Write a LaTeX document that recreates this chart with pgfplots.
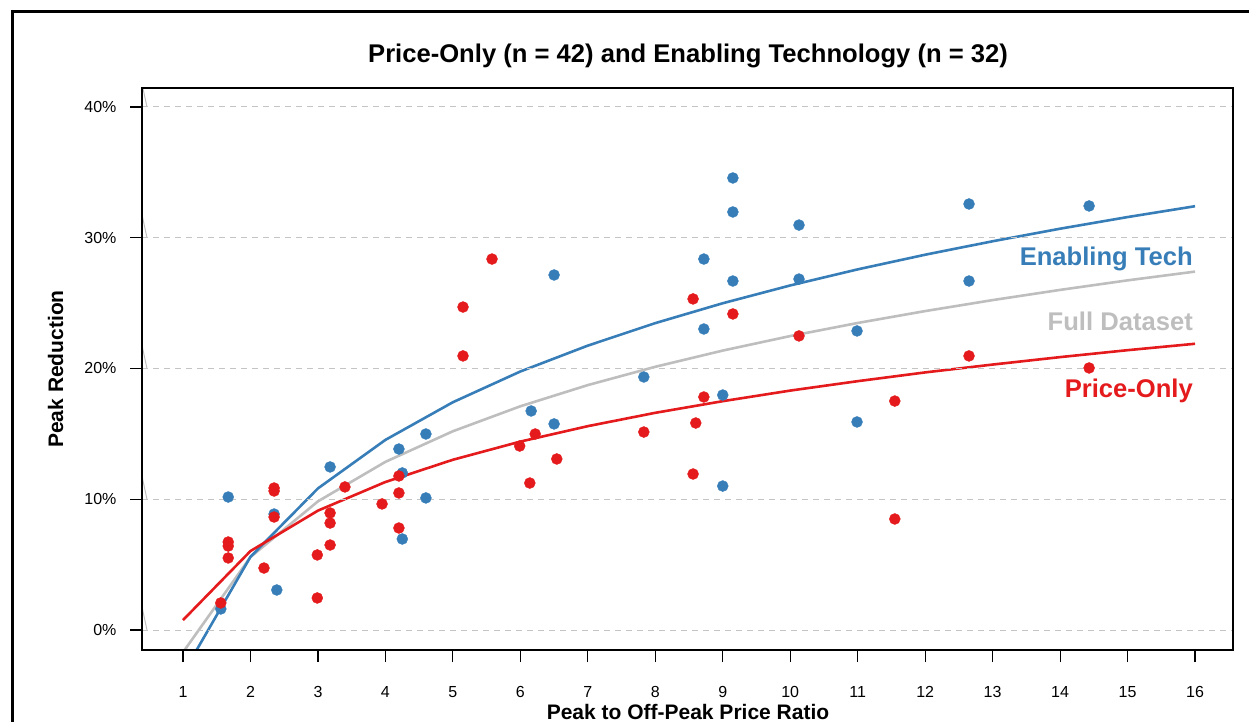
\documentclass[border=0pt]{standalone}
\usepackage{fontspec}
\setmainfont{Liberation Sans}
\usepackage{pgfplots}
\pgfplotsset{compat=1.18}

\definecolor{etblue}{HTML}{377EB8}
\definecolor{pored}{HTML}{E41A1C}
\definecolor{fullgray}{HTML}{BEBEBE}
\definecolor{gridgray}{HTML}{C4C4C4}

\begin{document}
\begin{tikzpicture}
\path[use as bounding box] (0pt,0pt) rectangle (1249pt,-721pt);
% outer frame, cut by the page on the right and bottom
\draw[line width=3pt] (12pt,-760pt) -- (12pt,-11pt) -- (1290pt,-11pt);

\begin{axis}[
    at={(142pt,-650pt)}, anchor=south west,
    scale only axis, width=1091pt, height=562pt,
    xmin=0.392, xmax=16.563, ymin=-1.53, ymax=41.45,
    axis on top,
    axis line style={line width=1.2pt},
    xtick={1,...,16}, ytick={0,10,20,30,40},
    yticklabels={0\%,10\%,20\%,30\%,40\%},
    tick align=outside, tick pos=left,
    major tick length=12pt,
    tick style={black, line width=1.2pt},
    ymajorgrids,
    grid style={gridgray, line width=1pt, dash pattern=on 6pt off 5pt},
    tick label style={font=\fontsize{16}{19}\selectfont},
    xticklabel style={yshift=-21pt},
    yticklabel style={xshift=-10pt},
    /pgf/number format/assume math mode=true,
]

% little break marks at the left end of each grid line
\draw[fullgray, line width=1pt] (axis cs:0.392,1.76) -- (axis cs:0.466,0);
\draw[fullgray, line width=1pt] (axis cs:0.392,11.76) -- (axis cs:0.466,10);
\draw[fullgray, line width=1pt] (axis cs:0.392,21.76) -- (axis cs:0.466,20);
\draw[fullgray, line width=1pt] (axis cs:0.392,31.76) -- (axis cs:0.466,30);
\draw[fullgray, line width=1pt] (axis cs:0.392,41.76) -- (axis cs:0.466,40);

% fitted curves
\addplot[fullgray, line width=2.6pt] coordinates {
    (1,-1.70) (2,5.58) (3,9.84) (4,12.86) (5,15.20) (6,17.11) (7,18.73) (8,20.13)
    (9,21.37) (10,22.48) (11,23.48) (12,24.39) (13,25.23) (14,26.01) (15,26.74) (16,27.41)
};
\addplot[etblue, line width=2.6pt] coordinates {
    (1,-3.33) (2,5.60) (3,10.83) (4,14.54) (5,17.42) (6,19.77) (7,21.75) (8,23.47)
    (9,24.99) (10,26.35) (11,27.58) (12,28.70) (13,29.73) (14,30.69) (15,31.58) (16,32.41)
};
\addplot[pored, line width=2.6pt] coordinates {
    (1,0.76) (2,6.04) (3,9.13) (4,11.32) (5,13.02) (6,14.41) (7,15.59) (8,16.61)
    (9,17.50) (10,18.31) (11,19.03) (12,19.70) (13,20.30) (14,20.87) (15,21.40) (16,21.89)
};

% enabling technology programs
\addplot[only marks, mark=*, mark size=5.5pt, etblue, mark options={draw=none, fill=etblue}] coordinates {
    (1.56,1.61) (1.67,10.17) (2.35,8.87) (2.39,3.06) (3.18,12.47) (4.20,13.84)
    (4.25,12.01) (4.25,6.96) (4.60,14.99) (4.60,10.10) (6.50,27.15) (6.16,16.75)
    (6.50,15.76) (7.83,19.35) (8.72,28.37) (9.15,26.69) (8.72,23.02) (9.00,17.97)
    (9.00,11.01) (9.15,34.57) (9.15,31.97) (10.13,30.97) (10.13,26.84) (12.65,32.58)
    (12.65,26.69) (14.43,32.43) (10.99,22.87) (10.99,15.91)
};
% price-only programs
\addplot[only marks, mark=*, mark size=5.5pt, pored, mark options={draw=none, fill=pored}] coordinates {
    (1.56,2.07) (1.67,6.73) (1.67,6.42) (1.67,5.51) (2.20,4.74) (2.35,10.86)
    (2.35,10.63) (2.35,8.64) (2.99,2.45) (2.99,5.74) (3.18,6.50) (3.18,8.18)
    (3.18,8.95) (3.40,10.94) (3.95,9.64) (4.20,10.48) (4.20,7.80) (4.20,11.78)
    (5.58,28.37) (5.15,24.70) (5.15,20.96) (5.99,14.07) (6.22,14.99) (6.14,11.24)
    (6.54,13.08) (7.83,15.14) (8.56,25.32) (9.15,24.17) (8.72,17.82) (8.60,15.83)
    (8.56,11.93) (12.65,20.96) (14.43,20.04) (11.55,17.51) (11.55,8.49) (10.13,22.49)
};
\end{axis}

\node[anchor=base, inner sep=0pt, font=\bfseries\fontsize{25.6}{30}\selectfont] at (688pt,-62pt)
    {Price-Only (n = 42) and Enabling Technology (n = 32)};
\node[anchor=base, inner sep=0pt, font=\bfseries\fontsize{21}{25}\selectfont] at (688pt,-719pt)
    {Peak to Off-Peak Price Ratio};
\node[rotate=90, anchor=base, inner sep=0pt, font=\bfseries\fontsize{21}{25}\selectfont] at (63pt,-369pt)
    {Peak Reduction};

\node[anchor=base east, inner sep=0pt, text=etblue, font=\bfseries\fontsize{25.6}{30}\selectfont] at (1193pt,-265pt) {Enabling Tech};
\node[anchor=base east, inner sep=0pt, text=fullgray, font=\bfseries\fontsize{25.6}{30}\selectfont] at (1193pt,-330pt) {Full Dataset};
\node[anchor=base east, inner sep=0pt, text=pored, font=\bfseries\fontsize{25.6}{30}\selectfont] at (1193pt,-397pt) {Price-Only};
\end{tikzpicture}
\end{document}
